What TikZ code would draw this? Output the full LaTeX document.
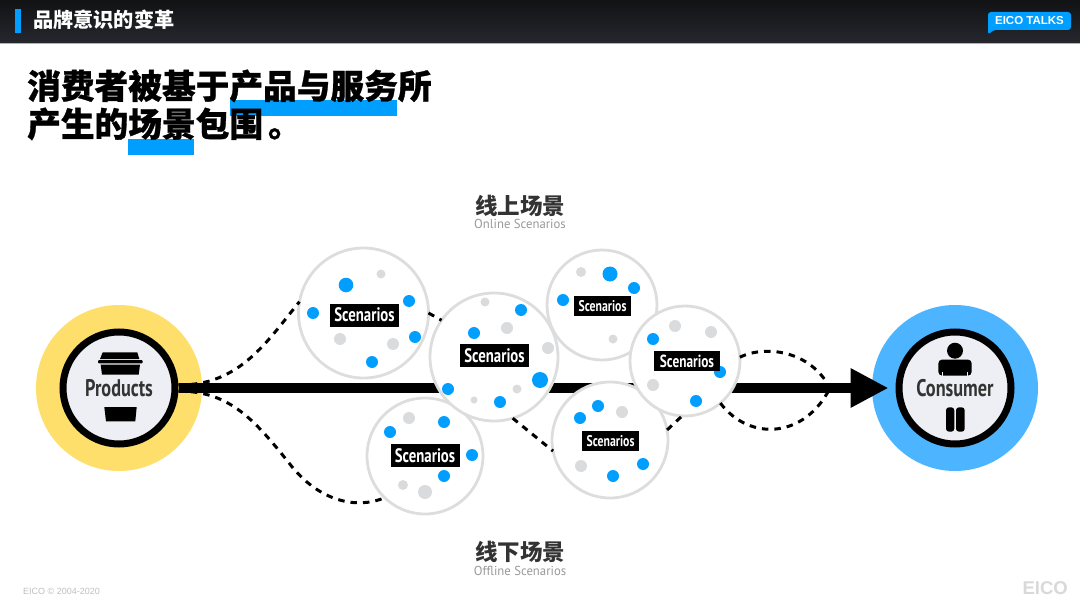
\documentclass[tikz,border=0pt]{standalone}
\usepackage{fontspec}
\setmainfont{Liberation Sans}
\newfontfamily\cjkfont{Noto Sans CJK SC}
\newfontfamily\cjkheavy{Noto Sans CJK SC}[BoldFeatures={FakeBold=0.9}]
\newfontfamily\dinfont{PT Sans}[FakeStretch=0.76]
\newfontfamily\subfont{PT Sans}[FakeStretch=0.98]
\usepackage{xcolor}
\definecolor{eicoblue}{HTML}{009EFF}
\definecolor{ringblue}{HTML}{4DB5FF}
\definecolor{ringyellow}{HTML}{FFDF6B}
\definecolor{coregray}{HTML}{EEEFF4}
\definecolor{dotgray}{HTML}{DADBDD}
\definecolor{bordergray}{HTML}{DDDDDD}
\definecolor{barblack}{HTML}{111214}
\definecolor{barbottom}{HTML}{26282E}
\definecolor{inkgray}{HTML}{333333}
\usepackage{tikz}
\usetikzlibrary{arrows.meta,positioning}
\tikzset{
  ring/.style={circle,minimum size=166pt,inner sep=0pt,outer sep=0pt},
  core/.style={circle,draw=black,line width=7pt,fill=coregray,minimum size=112pt,inner sep=0pt,outer sep=3.5pt,text=inkgray,font=\dinfont\bfseries\fontsize{24}{24}\selectfont},
  scene/.style={circle,draw=bordergray,line width=2.8pt,fill=white,inner sep=0pt,outer sep=0pt},
  tag/.style={fill=black,text=white,inner sep=0pt,align=center,font=\dinfont\bfseries},
  bigtag/.style={tag,minimum width=69pt,minimum height=23pt,font=\dinfont\bfseries\fontsize{19.5}{19}\selectfont},
  midtag/.style={tag,minimum width=66pt,minimum height=20pt,font=\dinfont\fontsize{17.5}{17}\selectfont\bfseries},
  smalltag/.style={tag,minimum width=57pt,minimum height=20pt,font=\dinfont\bfseries\fontsize{15.5}{15}\selectfont},
  route/.style={draw=black,line width=3pt,dash pattern=on 6.5pt off 6pt},
  flow/.style={draw=black,line width=10pt,-{Triangle[length=38pt,width=37pt]}},
  bluedot/.style={fill=eicoblue},
  graydot/.style={fill=dotgray},
  head/.style={inner sep=0pt,text=inkgray,font=\cjkfont\bfseries\fontsize{22.5}{23}\selectfont},
  sub/.style={inner sep=0pt,text=gray!80,font=\subfont\fontsize{13}{13}\selectfont},
  titleline/.style={anchor=west,inner sep=0pt,text=black,font=\cjkheavy\bfseries\fontsize{33.7}{34}\selectfont}
}

\begin{document}
\begin{tikzpicture}[x=1pt,y=-1pt]
  \useasboundingbox (0,0) rectangle (1080,602);
  \fill[white] (0,0) rectangle (1080,602);

  % Header bar
  \shade[top color=barblack,bottom color=barbottom] (0,0) rectangle (1080,43);
  \fill[gray!60] (0,43) rectangle (1080,44);
  \fill[eicoblue] (15,9) rectangle (21,33);
  \node[anchor=west,inner sep=0pt,text=white,font=\cjkfont\bfseries\fontsize{20.2}{21}\selectfont] (section) at (33,19.5) {品牌意识的变革};
  \fill[eicoblue,rounded corners=3pt] (988,12) -- (1071,12) -- (1071,30) -- (993,30) -- (988,35) -- cycle;
  \node[text=white,inner sep=0pt,font=\bfseries\fontsize{11.5}{12}\selectfont] (talks) at (1029.5,21) {EICO TALKS};

  % Title with highlights
  \fill[eicoblue] (230,100) rectangle (397,116);
  \fill[eicoblue] (128,139) rectangle (194,155);
  \node[titleline] (titlea) at (27,86) {消费者被基于产品与服务所};
  \node[titleline] (titleb) at (27,124) {产生的场景包围\hspace{5pt}。};

  % End rings
  \node[ring,fill=ringyellow] (prodring) at (119,388) {};
  \node[ring,fill=ringblue] (consring) at (955,388) {};
  \node[core] (products) at (119,388) {Products};
  \node[core] (consumer) at (955,388) {Consumer};

  % Cup icon
  \fill (102.7,352.3) -- (137.3,352.3) -- (139.3,359) -- (100,359) -- cycle;
  \fill[rounded corners=1pt] (98,360) rectangle (142.7,363.3);
  \fill (100.7,364.7) -- (140,364.7) -- (138.7,374.7) -- (102,374.7) -- cycle;
  \fill (104.3,407) -- (136.7,407) -- (135.3,421.3) -- (106,421.3) -- cycle;

  % Person icon
  \fill (955,350.7) circle (8pt);
  \fill[rounded corners=4pt] (938.3,375.7) -- (938.3,359.5) -- (971.7,359.5) -- (971.7,375.7) -- cycle;
  \fill[coregray] (942,371.5) rectangle (943,375.7);
  \fill[coregray] (967,371.5) rectangle (968,375.7);
  \fill[rounded corners=3pt] (946,407.3) rectangle (954.3,431.7);
  \fill[rounded corners=3pt] (956,407.3) rectangle (964.7,431.7);

  % Main arrow
  \draw[flow,shorten >=7pt] (products) -- (consumer);

  % Scenario circles
  \coordinate (joint) at (830,388);
  \node[scene,minimum size=130pt] (s1) at (363.5,313) {};
  \node[scene,minimum size=116pt] (s4) at (425,456) {};
  \node[scene,minimum size=110pt] (s3) at (602,305) {};
  \node[scene,minimum size=128pt] (s2) at (494,357) {};
  \node[scene,minimum size=116pt] (s5) at (610,440) {};
  \node[scene,minimum size=110pt] (s6) at (685,361) {};

  % Dashed routes
  \draw[route] (products.3) .. controls (240,386) and (268,340) .. (s1.170);
  \draw[route] (products.-3) .. controls (230,391) and (255,420) .. (293,468) .. controls (320,500) and (355,510) .. (s4.226);
  \draw[route] (s1.0) -- (s2.145);
  \draw[route] (s2.287) -- (s5.191);
  \draw[route] (s5.10) -- (s6.267);
  \draw[route] (s6.4) .. controls (765,345) and (810,350) .. (joint);
  \draw[route] (s6.310) .. controls (750,442) and (805,438) .. (joint);

  % Dots
  \foreach \x/\y/\r in {346/285/7.3,409/301/6,313/313/6,415/337/6,372/362/6,
      521/310/6,474/333/6,540/380/8,448/389/6,500/402/6,
      444/422/6,390/432/6,472/455/6,444/476/6,
      610/274/7.5,634/288/6,563/300/6,
      653/339/6,720/372/6,696/401/6,
      598/406/6,580/418/6,643/464/6,613/476/6}
    \fill[bluedot] (\x,\y) circle (\r pt);
  \foreach \x/\y/\r in {381/274/4.5,340/339/6,393/344/6,
      485/302/4.5,507/328/6,548/348/6,517/389/4.5,474/400/3.5,
      409/418/6,403/485/5,425/492/7,
      581/272/5,613/339/4.5,
      675/326/6,711/332/6,653/385/6,
      622/412/6,581/466/6}
    \fill[graydot] (\x,\y) circle (\r pt);

  % Tags
  \node[bigtag] (t1) at (364.5,315) {Scenarios};
  \node[bigtag] (t2) at (494.5,355.5) {Scenarios};
  \node[bigtag] (t4) at (425,455.5) {Scenarios};
  \node[smalltag] (t3) at (602.5,306) {Scenarios};
  \node[midtag] (t6) at (687,361) {Scenarios};
  \node[smalltag] (t5) at (610.5,441) {Scenarios};

  % Group headings
  \node[head] (online) at (520,206) {线上场景};
  \node[sub] (onlinesub) at (520,224) {Online Scenarios};
  \node[head] (offline) at (520,552) {线下场景};
  \node[sub] (offlinesub) at (520,571) {Offline Scenarios};

  % Footer
  \node[anchor=west,inner sep=0pt,text=gray!50,font=\fontsize{9}{9}\selectfont] (copy) at (23,591) {EICO © 2004-2020};
  \node[anchor=east,inner sep=0pt,text=gray!30,font=\bfseries\fontsize{18.5}{19}\selectfont] (logo) at (1068,588.5) {EICO};
\end{tikzpicture}
\end{document}
